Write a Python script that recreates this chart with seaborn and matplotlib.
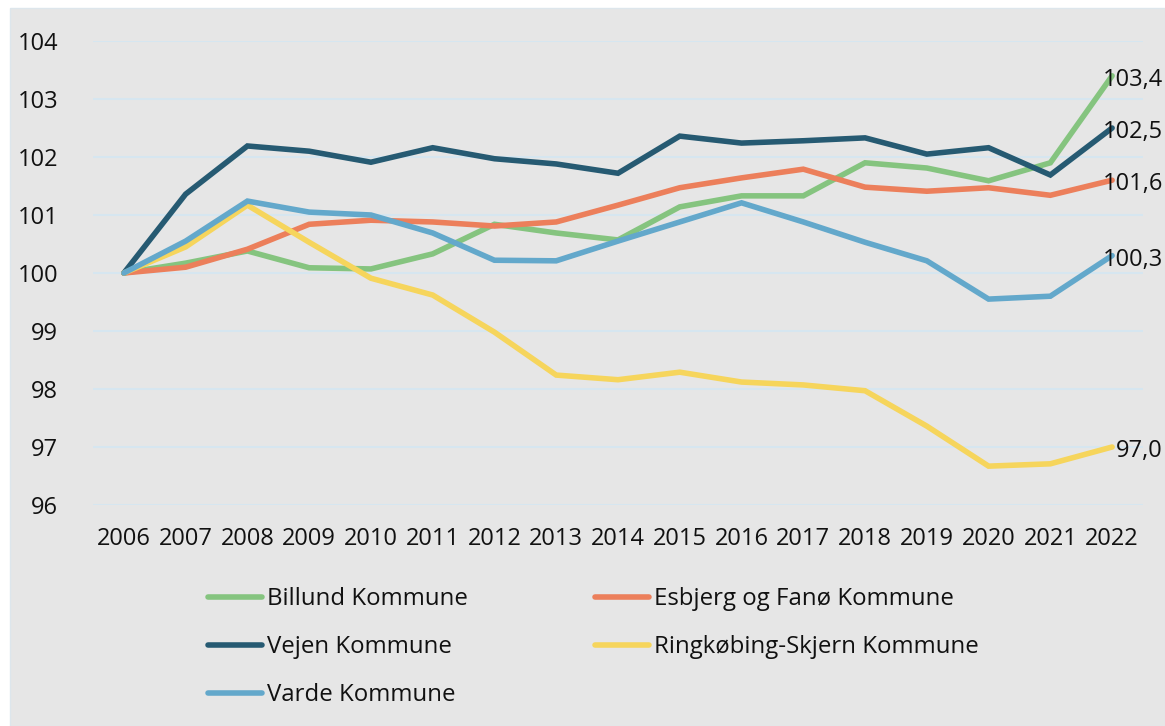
import matplotlib
matplotlib.use("Agg")
import matplotlib.pyplot as plt
import seaborn as sns
import pandas as pd
from matplotlib.lines import Line2D

years = [str(y) for y in range(2006, 2023)]
billund = [100, 100.17, 100.38, 100.09, 100.07, 100.33, 100.84, 100.69, 100.57, 101.14, 101.33, 101.33, 101.90, 101.81, 101.59, 101.90, 103.4]
esbjerg = [100, 100.10, 100.41, 100.84, 100.91, 100.88, 100.81, 100.88, 101.17, 101.47, 101.64, 101.79, 101.48, 101.41, 101.47, 101.34, 101.6]
vejen = [100, 101.36, 102.19, 102.10, 101.91, 102.16, 101.97, 101.88, 101.72, 102.36, 102.24, 102.28, 102.33, 102.05, 102.16, 101.69, 102.5]
ringkobing = [100, 100.45, 101.17, 100.53, 99.91, 99.62, 98.98, 98.24, 98.16, 98.29, 98.12, 98.07, 97.97, 97.36, 96.67, 96.71, 97.0]
varde = [100, 100.55, 101.24, 101.05, 101.00, 100.69, 100.22, 100.21, 100.55, 100.88, 101.21, 100.88, 100.53, 100.21, 99.55, 99.60, 100.3]

series_names = ["Billund Kommune", "Esbjerg og Fanø Kommune", "Vejen Kommune",
                "Ringkøbing-Skjern Kommune", "Varde Kommune"]
series_values = [billund, esbjerg, vejen, ringkobing, varde]
end_labels = ["103,4", "101,6", "102,5", "97,0", "100,3"]
colors = ["#85c47f", "#ec7f5b", "#265a72", "#f6d55c", "#63a8cb"]
yticks = [96, 97, 98, 99, 100, 101, 102, 103, 104]

rows = []
for name, vals in zip(series_names, series_values):
    for i, (yr, v) in enumerate(zip(years, vals)):
        rows.append({"idx": i, "year": yr, "value": v, "series": name})
df = pd.DataFrame(rows)

sns.set_theme(style="white")
plt.rcParams["font.family"] = ["Open Sans", "DejaVu Sans"]

bg = "#e6e6e6"
fig = plt.figure(figsize=(11.65, 7.26), dpi=100)
fig.patch.set_facecolor("white")
fig.patches.append(plt.Rectangle((10/1165, 0), 1 - 10/1165, 1 - 8/726,
                                 transform=fig.transFigure, facecolor=bg,
                                 edgecolor="#dde6ec", linewidth=1, zorder=-10))

ax = fig.add_axes([93/1165, (726-505)/726, 1050/1165, 464/726])
ax.set_facecolor(bg)
ax.patch.set_alpha(0)

palette = dict(zip(series_names, colors))
sns.lineplot(data=df, x="idx", y="value", hue="series", palette=palette,
             hue_order=series_names, linewidth=4.0, ax=ax, legend=False,
             sort=False, solid_capstyle="round", solid_joinstyle="miter")
for line in ax.lines:
    line.set_clip_on(False)

ax.set_xlim(-0.5, len(years) - 0.5)
ax.set_ylim(96, 104)
ax.set_xticks(range(len(years)))
ax.set_xticklabels(years)
ax.set_yticks(yticks)
ax.set_yticklabels([str(t) for t in yticks])
ax.tick_params(axis="both", labelsize=17, colors="#111111", length=0)
ax.tick_params(axis="x", pad=16)
ax.tick_params(axis="y", pad=25)
ax.grid(axis="y", color="#d6e6f0", linewidth=1.5)
ax.grid(axis="x", visible=False)
ax.set_axisbelow(True)
for s in ax.spines.values():
    s.set_visible(False)
ax.set_xlabel("")
ax.set_ylabel("")

for vals, lab in zip(series_values, end_labels):
    ax.annotate(lab, xy=(len(years) - 1, vals[-1]), xycoords="data",
                xytext=(1163, -3), textcoords=("figure pixels", "offset points"),
                ha="right", va="center", fontsize=17, color="#111111",
                annotation_clip=False)

order = [0, 2, 4, 1, 3]
handles = [Line2D([0], [0], color=colors[i], linewidth=4.0, solid_capstyle="round") for i in order]
labels = [series_names[i] for i in order]
leg = fig.legend(handles, labels, loc="upper left", bbox_to_anchor=(208/1165, 1 - 587/726),
                 ncol=2, frameon=False, fontsize=17.3, handlelength=2.25,
                 handletextpad=0.2, columnspacing=5.3, labelspacing=1.0,
                 borderpad=0, borderaxespad=0)
for t in leg.get_texts():
    t.set_color("#111111")

fig.savefig("out.png", dpi=100, facecolor=fig.get_facecolor())
